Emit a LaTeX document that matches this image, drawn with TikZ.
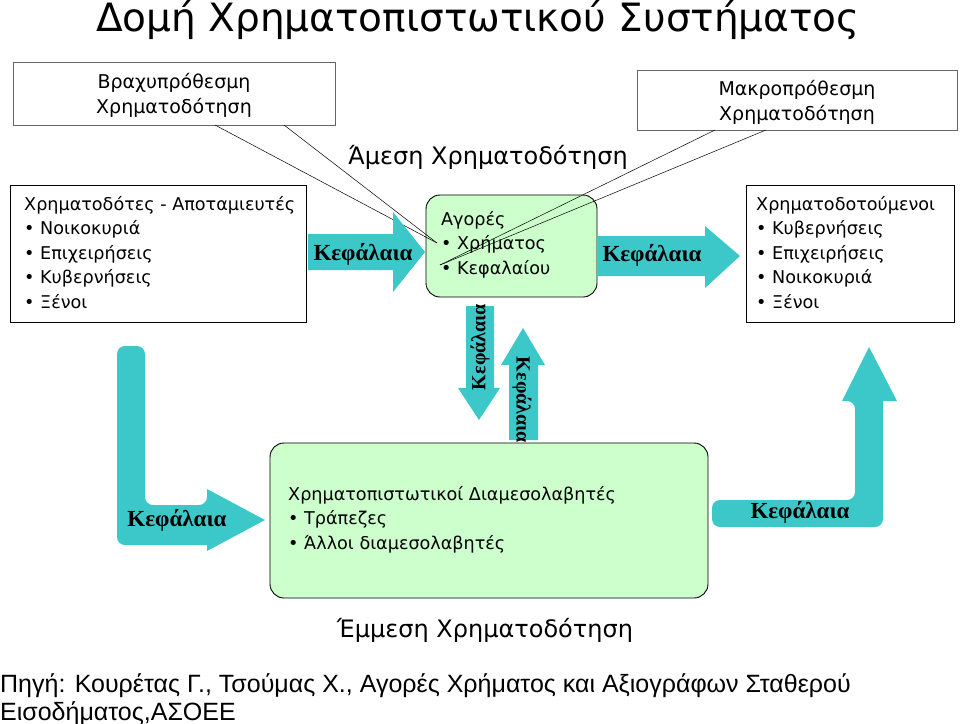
\documentclass[tikz,border=0pt]{standalone}
\usepackage{fontspec}
\setmainfont{DejaVu Sans}
\newfontfamily\kfont{Liberation Serif}
\newfontfamily\srcfont{Liberation Sans}
\definecolor{cy}{HTML}{3CC8C8}
\definecolor{lg}{HTML}{CCFFCC}
\begin{document}
\begin{tikzpicture}[x=1pt,y=-1pt,
  note/.style={draw=gray!80!black,fill=white,line width=0.8pt},
  plainbox/.style={draw=black,fill=white,line width=0.8pt},
  greenbox/.style={draw=black,fill=lg,rounded corners=14pt,line width=0.9pt},
  txt/.style={font=\fontsize{17.6}{24.5}\selectfont,align=left,inner sep=0pt},
  kl/.style={font=\fontsize{23}{23}\selectfont\kfont\bfseries,inner sep=0pt},
  arr/.style={fill=cy,draw=none},
  ptr/.style={draw=black,line width=0.5pt}]
\useasboundingbox (0,0) rectangle (960,723);
\node[font=\fontsize{39}{39}\selectfont] (title) at (478,20) {Δομή Χρηματοπιστωτικού Συστήματος};

% notes
\draw[note] (13,62) rectangle (335,125);
\node[txt,align=center,font=\fontsize{19}{25}\selectfont] (br) at (174,95) {Βραχυπρόθεσμη\\Χρηματοδότηση};
\draw[note] (637,70) rectangle (957,130);
\node[txt,align=center,font=\fontsize{19}{25}\selectfont] (mk) at (797,102) {Μακροπρόθεσμη\\Χρηματοδότηση};
\node[font=\fontsize{24}{24}\selectfont] (amesi) at (488,157) {Άμεση Χρηματοδότηση};

% boxes
\draw[plainbox] (10,185) rectangle (306,322);
\node[txt,anchor=north west] (lefttxt) at (24,196) {Χρηματοδότες - Αποταμιευτές\\• Νοικοκυριά\\• Επιχειρήσεις\\• Κυβερνήσεις\\• Ξένοι};
\draw[plainbox] (746,185) rectangle (954,322);
\node[txt,anchor=north west] (righttxt) at (756,196) {Χρηματοδοτούμενοι\\• Κυβερνήσεις\\• Επιχειρήσεις\\• Νοικοκυριά\\• Ξένοι};
\draw[greenbox] (426,195) rectangle (597,297);
\node[txt,anchor=north west] (mid) at (441,211) {Αγορές\\• Χρήματος\\• Κεφαλαίου};
\draw[greenbox] (270,443) rectangle (708,598);
\node[txt,anchor=north west] (bot) at (288,486) {Χρηματοπιστωτικοί Διαμεσολαβητές\\• Τράπεζες\\• Άλλοι διαμεσολαβητές};
\node[font=\fontsize{24}{24}\selectfont] (emmesi) at (485,630) {Έμμεση Χρηματοδότηση};

% pointer lines
\draw[ptr] (215,125) -- (437,243);
\draw[ptr] (284,125) -- (437,243);
\draw[ptr] (715,130) -- (440,265);
\draw[ptr] (766,130) -- (440,265);

% arrows
\fill[arr] (308,234) -- (393,234) -- (393,212) -- (425,252) -- (393,292) -- (393,270) -- (308,270) -- cycle;
\node[kl] (k1) at (363,254) {Κεφάλαια};
\fill[arr] (598,236) -- (705,236) -- (705,226) -- (740,256) -- (705,288) -- (705,276) -- (598,276) -- cycle;
\node[kl] (k2) at (652,255) {Κεφάλαια};
\fill[arr] (466,306) -- (494,306) -- (494,388) -- (500,388) -- (479,420) -- (458,388) -- (466,388) -- cycle;
\node[kl,rotate=90,font=\fontsize{20}{20}\selectfont\kfont\bfseries] (k3) at (480,347) {Κεφάλαια};
\fill[arr] (509,440) -- (538,440) -- (538,365) -- (545,365) -- (523,328) -- (501,365) -- (509,365) -- cycle;
\node[kl,rotate=-90,font=\fontsize{20}{20}\selectfont\kfont\bfseries] (k4) at (522,400) {Κεφάλαια};
\fill[arr,rounded corners=8pt] (117,346) -- (145,346) -- (145,505) -- (207,505) [sharp corners] -- (207,489) -- (265,520) -- (207,551) -- (207,545) [rounded corners=8pt] -- (117,545) -- cycle;
\node[kl] (k5) at (177,520) {Κεφάλαια};
\fill[arr,rounded corners=8pt] (712,500) -- (855,500) -- (855,401) [sharp corners] -- (842,401) -- (869,347) -- (897,401) -- (883,401) [rounded corners=8pt] -- (883,527) -- (712,527) -- cycle;
\node[kl] (k6) at (800,512) {Κεφάλαια};

\node[font=\fontsize{25}{28}\selectfont\srcfont,anchor=north west,align=left,inner sep=0pt] (src) at (0,673) {Πηγή: Κουρέτας Γ., Τσούμας Χ., Αγορές Χρήματος και Αξιογράφων Σταθερού\\Εισοδήματος,ΑΣΟΕΕ};
\end{tikzpicture}
\end{document}
